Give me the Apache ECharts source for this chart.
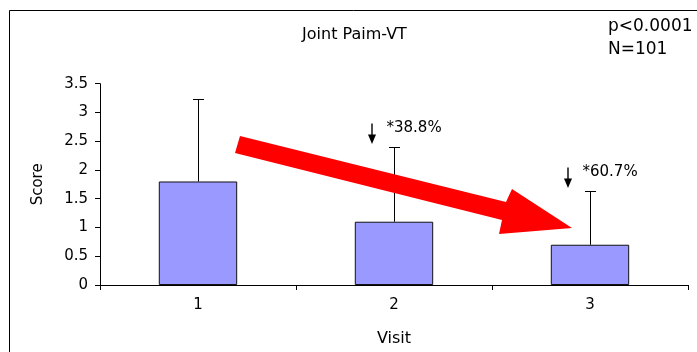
<!DOCTYPE html>
<html>
<head>
<meta charset="utf-8">
<script src="https://cdn.jsdelivr.net/npm/echarts@6/dist/echarts.min.js"></script>
<style>
html,body{margin:0;padding:0;background:#fff;}
#chart{width:697px;height:352px;}
</style>
</head>
<body>
<div id="chart"></div>
<script>
// ---- data ----
var categories = ['1', '2', '3'];
var meanScores = [1.8, 1.1, 0.7];
var upperError = [3.24, 2.4, 1.64];
var reductionNotes = ['', '*38.8%', '*60.7%'];
var yTicks = { min: 0, max: 3.5, interval: 0.5 };
var titleText = 'Joint Paim-VT';
var statLines = ['p<0.0001', 'N=101'];

var FONT = 'DejaVu Sans';
var chart = echarts.init(document.getElementById('chart'), null, { renderer: 'canvas' });

var errData = categories.map(function (c, i) { return [i, upperError[i], meanScores[i]]; });

var option = {
  animation: false,
  backgroundColor: '#ffffff',
  grid: { left: 100, right: 9, top: 83.7, bottom: 66.7, containLabel: false },
  xAxis: {
    type: 'category',
    data: categories,
    name: 'Visit',
    nameLocation: 'middle',
    nameGap: 46,
    nameTextStyle: { fontFamily: FONT, fontSize: 16, color: '#000' },
    axisLine: { lineStyle: { color: '#000', width: 1 } },
    axisTick: { show: true, length: 5, inside: false, lineStyle: { color: '#000' } },
    axisLabel: { fontFamily: FONT, fontSize: 15, color: '#000', margin: 13 },
    splitLine: { show: false }
  },
  yAxis: {
    type: 'value',
    min: yTicks.min,
    max: yTicks.max,
    interval: yTicks.interval,
    name: 'Score',
    nameLocation: 'middle',
    nameRotate: 90,
    nameGap: 54,
    nameTextStyle: { fontFamily: FONT, fontSize: 15, color: '#000' },
    axisLine: { show: true, lineStyle: { color: '#000', width: 1 } },
    axisTick: { show: true, length: 5, inside: false, lineStyle: { color: '#000' } },
    axisLabel: { fontFamily: FONT, fontSize: 15, color: '#000', margin: 12 },
    splitLine: { show: false }
  },
  series: [
    {
      type: 'bar',
      data: meanScores,
      barWidth: '40%',
      itemStyle: { color: '#9999FF', borderColor: '#111', borderWidth: 1 },
      z: 2
    },
    {
      type: 'custom',
      data: errData,
      z: 3,
      renderItem: function (params, api) {
        var i = params.dataIndex;
        var x = api.value(0);
        var top = api.coord([x, api.value(1)]);
        var bot = api.coord([x, api.value(2)]);
        var cx = Math.round(top[0]) + 0.5;
        var ty = Math.round(top[1]) + 0.5;
        var children = [
          { type: 'line', shape: { x1: cx, y1: ty, x2: cx, y2: bot[1] }, style: { stroke: '#000', lineWidth: 1 } },
          { type: 'line', shape: { x1: cx - 5.5, y1: ty, x2: cx + 5.5, y2: ty }, style: { stroke: '#000', lineWidth: 1 } }
        ];
        var note = reductionNotes[i];
        if (note) {
          var ax = cx - 22.5;
          children.push({ type: 'line', shape: { x1: ax, y1: ty - 24, x2: ax, y2: ty - 11 }, style: { stroke: '#000', lineWidth: 1.4 } });
          children.push({ type: 'polygon', shape: { points: [[ax - 4, ty - 13], [ax + 4, ty - 13], [ax, ty - 3.5]] }, style: { fill: '#000' } });
          children.push({ type: 'text', style: { x: cx - 8, y: ty - 19, text: note, fill: '#000', font: '15px "' + FONT + '"', textAlign: 'left', textVerticalAlign: 'middle' } });
        }
        return { type: 'group', children: children };
      }
    }
  ],
  graphic: [
    { type: 'line', shape: { x1: 9.5, y1: 10.5, x2: 697, y2: 10.5 }, style: { stroke: '#000', lineWidth: 1 } },
    { type: 'line', shape: { x1: 9.5, y1: 10.5, x2: 9.5, y2: 352 }, style: { stroke: '#000', lineWidth: 1 } },
    { type: 'text', x: 354.5, y: 35, style: { text: titleText, fill: '#000', font: '16px "' + FONT + '"', textAlign: 'center', textVerticalAlign: 'middle' } },
    { type: 'text', x: 608, y: 27, style: { text: statLines[0], fill: '#000', font: '17px "' + FONT + '"', textAlign: 'left', textVerticalAlign: 'middle' } },
    { type: 'text', x: 608, y: 50, style: { text: statLines[1], fill: '#000', font: '17px "' + FONT + '"', textAlign: 'left', textVerticalAlign: 'middle' } },
    { type: 'polygon', z: 10, shape: { points: [[240, 136], [506, 202], [512, 189], [572, 228], [499, 234], [502, 220], [235, 153]] }, style: { fill: '#FF0000' } }
  ]
};
chart.setOption(option);
</script>
</body>
</html>
